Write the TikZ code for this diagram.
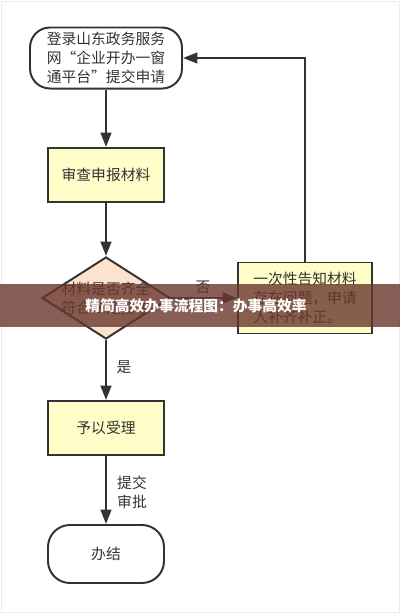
\documentclass[tikz,border=0pt]{standalone}
\usepackage{fontspec}
\setmainfont{Noto Sans CJK SC}
\usetikzlibrary{arrows.meta,shapes.geometric}
\definecolor{ink}{HTML}{333333}
\definecolor{boxyellow}{HTML}{FFFDC8}
\definecolor{peach}{HTML}{FDE3CE}
\definecolor{band}{RGB}{105,55,45}
\tikzset{
  flow/.style={-{Triangle[length=0.36cm,width=0.27cm]},line width=1.4pt,draw=ink},
  terminal/.style={draw=ink,line width=1.4pt,rounded corners=0.5cm,fill=white,align=center},
  process/.style={draw=ink,line width=1.4pt,fill=boxyellow,align=center},
  decision/.style={draw=ink,line width=1.4pt,fill=peach,diamond,inner sep=0pt},
}
\begin{document}
\begin{tikzpicture}[auto,font=\fontsize{10.5pt}{13.5pt}\selectfont,text=ink]
	\useasboundingbox (0,0) rectangle (10,-15.325);
	\draw[gray!15] (0.02,-0.02) rectangle (9.98,-15.3);
	\node[terminal,minimum width=3.8cm,minimum height=1.5cm] (start) at (2.65,-1.45) {登录山东政务服务\\网“企业开办一窗\\通平台”提交申请};
	\node[process,minimum width=2.9cm,minimum height=1.35cm] (check) at (2.65,-4.375) {审查申报材料};
	\node[decision,minimum width=3.2cm,minimum height=2.05cm] (ok) at (2.65,-7.45) {};
	\node[align=center] (oktxt) at (ok) {材料是否齐全\\符合法定要求};
	\node[process,minimum width=3.35cm,minimum height=1.775cm,align=left] (fix) at (7.625,-7.45) {一次性告知材料\\存在问题，申请\\人补齐补正。};
	\node[process,minimum width=2.9cm,minimum height=1.35cm] (accept) at (2.65,-10.7) {予以受理};
	\node[terminal,minimum width=2.9cm,minimum height=1.45cm,rounded corners=0.55cm] (done) at (2.65,-13.85) {办结};
	\draw[flow] (start) to (check);
	\draw[flow] (check) to (ok);
	\draw[flow] (ok.east) to (fix.west);
	\draw[flow] (fix.north) |- (start.east);
	\draw[flow] (ok.south) to (accept);
	\draw[flow] (accept) to (done);
	\node (no) at (5.075,-7.175) {否};
	\node (yes) at (3.1,-9.175) {是};
	\node[align=left] (submit) at (3.3,-12.3) {提交\\审批};
	% banner across the picture
	\fill[band,opacity=0.8] (0,-7.1) rectangle (10,-8.175);
	\node[text=white,font=\fontsize{10.5pt}{12pt}\selectfont\bfseries] (title) at (4.9,-7.64) {精简高效办事流程图：办事高效率};
\end{tikzpicture}
\end{document}
